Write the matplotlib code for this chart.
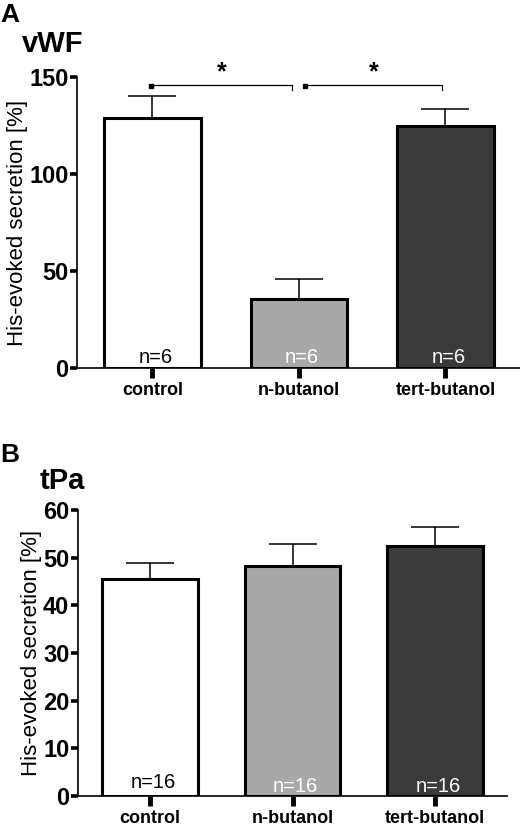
import matplotlib

matplotlib.use("Agg")

import matplotlib.pyplot as plt

plt.rcParams["font.family"] = ["Liberation Sans", "DejaVu Sans"]

categories = ["control", "n-butanol", "tert-butanol"]
bar_colors = ["#ffffff", "#a8a8a8", "#3a3a3a"]
n_text_colors = ["black", "white", "white"]

vwf_mean = [129, 35.5, 124.7]
vwf_sem = [11, 10.4, 8.8]
vwf_n = ["n=6", "n=6", "n=6"]
vwf_yticks = [0, 50, 100, 150]
vwf_sig_pairs = [(0, 1), (1, 2)]
vwf_sig_y = 145.7

tpa_mean = [45.5, 48.3, 52.5]
tpa_sem = [3.4, 4.5, 3.9]
tpa_n = ["n=16", "n=16", "n=16"]
tpa_yticks = [0, 10, 20, 30, 40, 50, 60]


def draw_panel(ax, means, sems, n_labels, yticks, width, n_offset):
    x = list(range(len(categories)))
    ax.bar(x, means, width=width, color=bar_colors, edgecolor="black",
           linewidth=2.2, zorder=2)
    ax.errorbar(x, means, yerr=[[0] * len(sems), sems], fmt="none",
                ecolor="black", elinewidth=1.1, capsize=17.5, capthick=1.1,
                zorder=1)
    for xi, lab, col, off in zip(x, n_labels, n_text_colors, n_offset):
        ax.annotate(lab, (xi + 0.02, 0), xytext=(0, off), textcoords="offset points",
                    ha="center", va="bottom", fontsize=14.5, color=col, zorder=3)
    ax.set_ylim(yticks[0], yticks[-1])
    ax.set_yticks(yticks)
    ax.set_xticks(x, labels=categories)
    for s in ["top", "right"]:
        ax.spines[s].set_visible(False)
    for s in ["left", "bottom"]:
        ax.spines[s].set_linewidth(1.2)
    ax.tick_params(axis="y", length=5, width=2.6, pad=1, labelsize=17)
    ax.tick_params(axis="x", length=7, width=3.5, pad=3, labelsize=13)
    for t in ax.get_yticklabels() + ax.get_xticklabels():
        t.set_fontweight("bold")
    ax.set_ylabel("His-evoked secretion [%]", fontsize=16, labelpad=1)


fig = plt.figure(figsize=(5.2, 8.24), dpi=100)

ax_a = fig.add_axes([0.148, 0.5534, 0.852, 0.3532])
draw_panel(ax_a, vwf_mean, vwf_sem, vwf_n, vwf_yticks, 0.66, [1, 1, 1])
ax_a.set_xlim(-0.515, 2.509)
for i, j in vwf_sig_pairs:
    x0, x1 = i - 0.01 + 0.05 * (i > 0), j - 0.05 + 0.03 * (j > 1)
    ax_a.plot([x0, x0, x1, x1], [vwf_sig_y - 0.8, vwf_sig_y, vwf_sig_y, vwf_sig_y - 2.2],
              color="black", linewidth=0.9, clip_on=False)
    ax_a.plot([x0], [vwf_sig_y - 0.4], marker="s", markersize=2.2, color="black",
              clip_on=False)
    ax_a.text((x0 + x1) / 2, vwf_sig_y + 0.5, "*", ha="center", va="bottom",
              fontsize=18, fontweight="bold", clip_on=False)

ax_b = fig.add_axes([0.1494, 0.0343, 0.826, 0.3467])
draw_panel(ax_b, tpa_mean, tpa_sem, tpa_n, tpa_yticks, 0.67, [3, 0, 0])
ax_b.set_xlim(-0.507, 2.505)

fig.text(0.0, 1 - 22 / 824, "A", fontsize=19, fontweight="bold", ha="left", va="baseline")
fig.text(22 / 520, 1 - 52 / 824, "vWF", fontsize=21, fontweight="bold", ha="left",
         va="baseline")
fig.text(0.0, 1 - 462 / 824, "B", fontsize=19, fontweight="bold", ha="left", va="baseline")
fig.text(40 / 520, 1 - 489 / 824, "tPa", fontsize=21, fontweight="bold", ha="left",
         va="baseline")

fig.savefig("out.png", dpi=100)
plt.close(fig)
